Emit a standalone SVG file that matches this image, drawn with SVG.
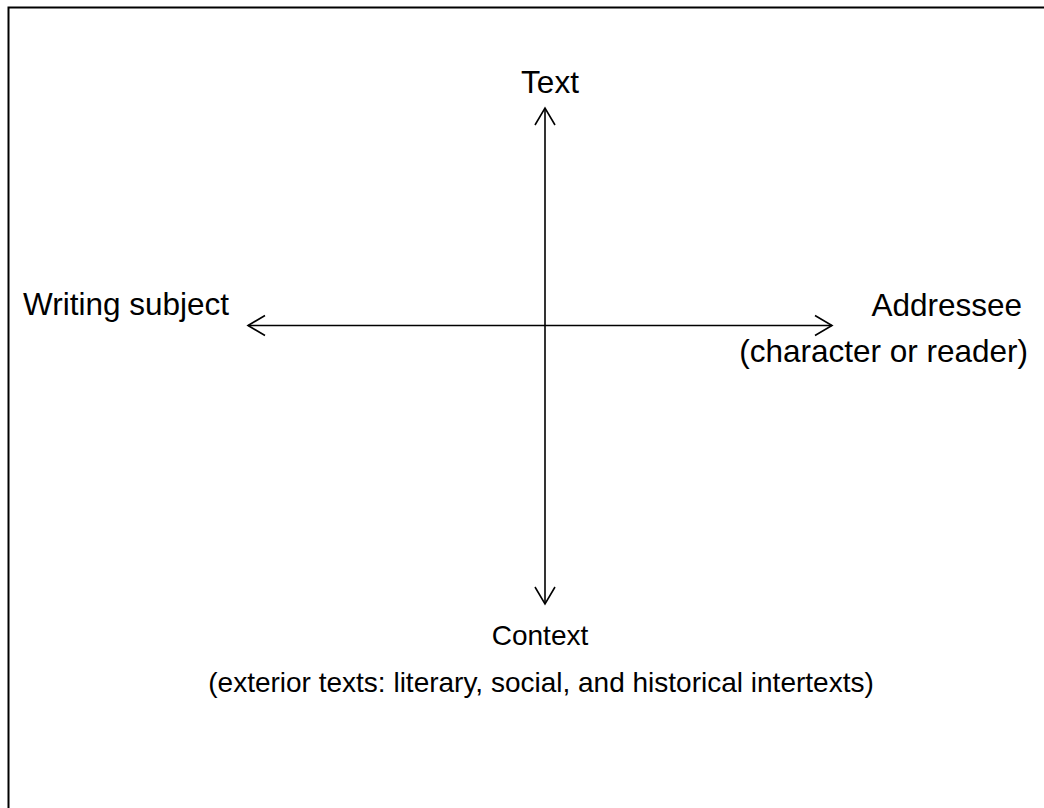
<svg xmlns="http://www.w3.org/2000/svg" width="1044" height="808" viewBox="0 0 1044 808">
<defs>
<style>
.lbl{font-family:"Liberation Sans",Arial,sans-serif;font-size:31.5px;fill:#000}
.sm{font-size:28px}
.ax{stroke:#000;stroke-width:1.6;fill:none}
</style>
<marker id="ah" markerUnits="userSpaceOnUse" markerWidth="24" markerHeight="24" viewBox="-19 -12 22 24" refX="0" refY="0" orient="auto-start-reverse">
<path d="M-17,-10 L0,0 L-17,10" fill="none" stroke="#000" stroke-width="1.6"/>
</marker>
</defs>
<rect width="1044" height="808" fill="#fff"/>
<rect x="8.5" y="7.5" width="1050" height="820" fill="none" stroke="#000" stroke-width="2"/>
<g id="connectors">
<line class="ax" x1="545" y1="108" x2="545" y2="604" marker-start="url(#ah)" marker-end="url(#ah)"/>
<line class="ax" x1="248" y1="325.5" x2="832" y2="325.5" marker-start="url(#ah)" marker-end="url(#ah)"/>
</g>
<g id="text-node"><text class="lbl" x="550" y="93" text-anchor="middle">Text</text></g>
<g id="writing-subject"><text class="lbl" x="23" y="315">Writing subject</text></g>
<g id="addressee">
<text class="lbl" x="1022" y="316" text-anchor="end">Addressee</text>
<text class="lbl" x="1028" y="362" text-anchor="end">(character or reader)</text>
</g>
<g id="context">
<text class="lbl sm" x="540" y="645" text-anchor="middle">Context</text>
<text class="lbl sm" x="541" y="692" text-anchor="middle">(exterior texts: literary, social, and historical intertexts)</text>
</g>
</svg>
